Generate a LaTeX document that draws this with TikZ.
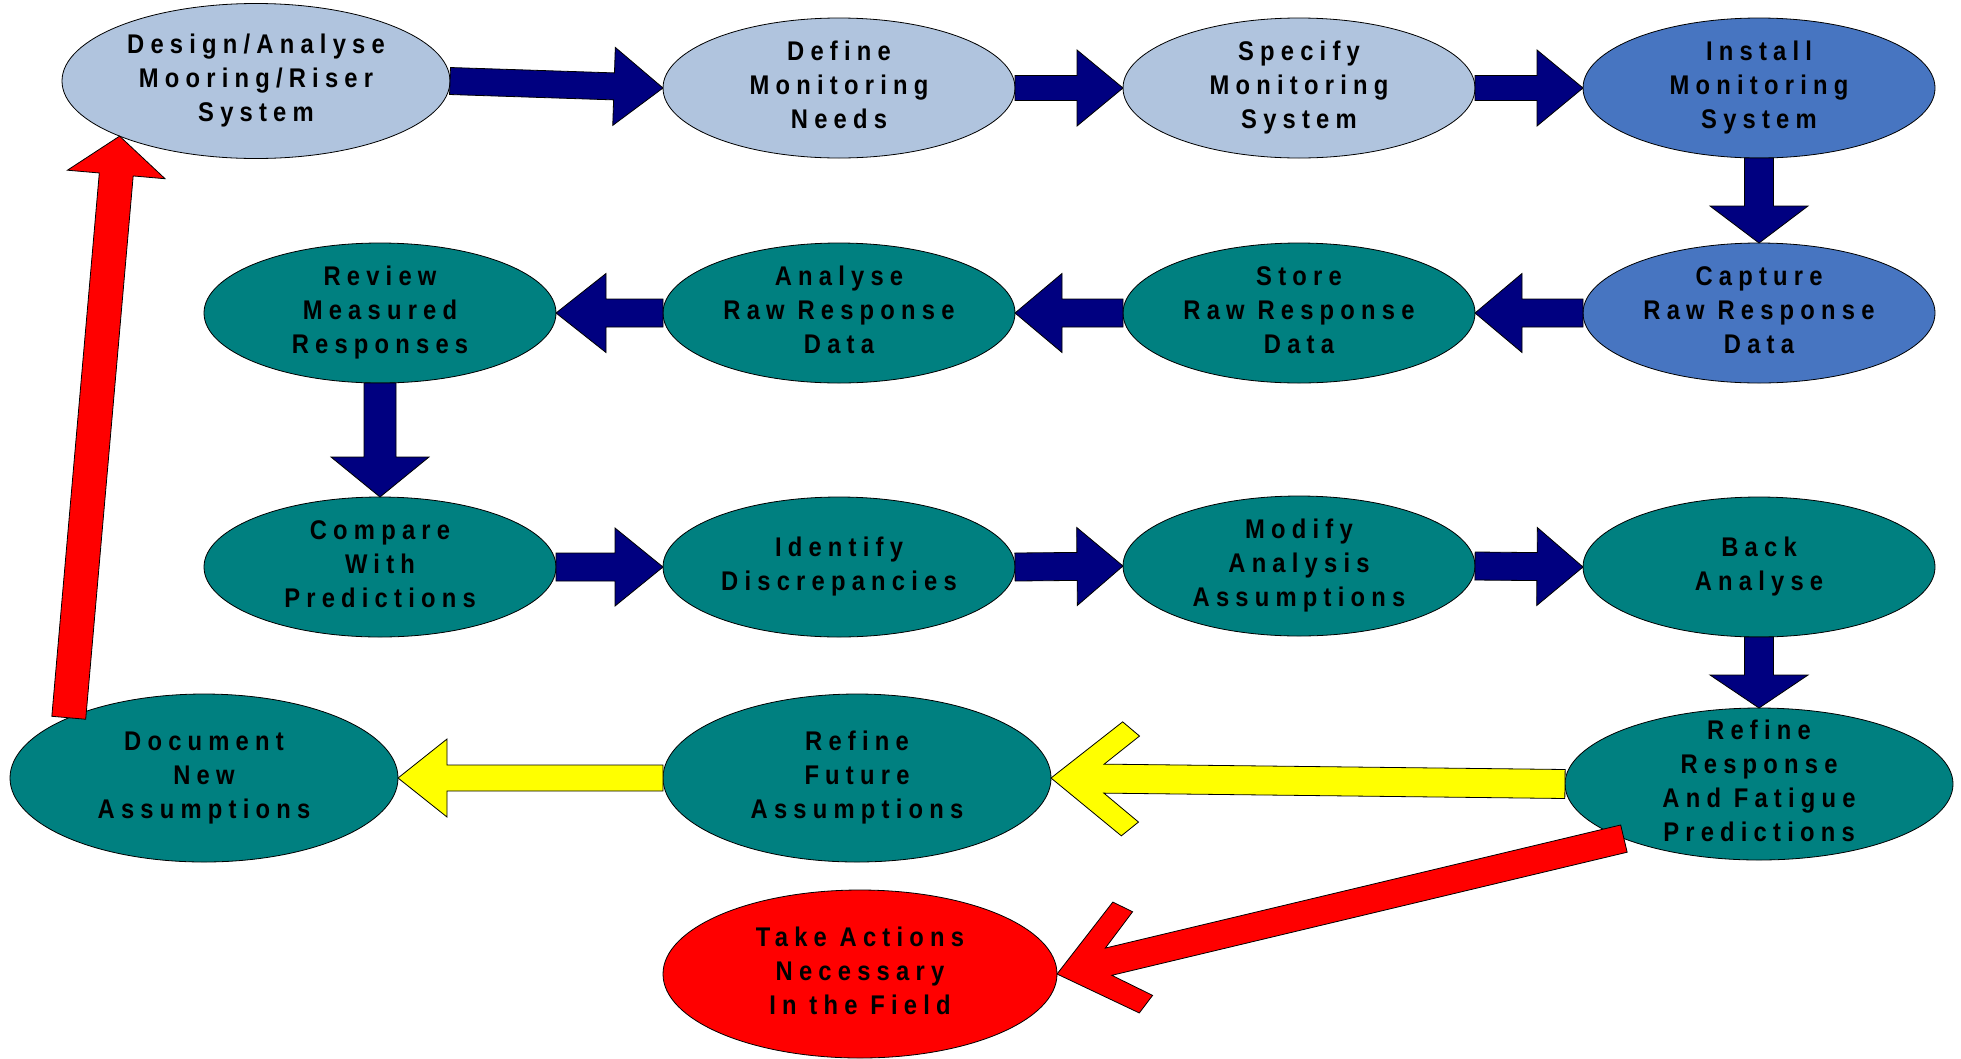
\documentclass[tikz,border=0pt]{standalone}
\usepackage{fontspec}
\setmainfont{Liberation Sans}
\newfontfamily\lblfont[LetterSpace=23,FakeStretch=0.88]{Liberation Sans}
\usetikzlibrary{shapes.geometric,calc}

\definecolor{lblue}{HTML}{B0C4DE}
\definecolor{mblue}{HTML}{4775C1}
\definecolor{tealc}{HTML}{008080}
\definecolor{navyc}{HTML}{000080}
\definecolor{redc}{HTML}{FF0000}
\definecolor{yelc}{HTML}{FFFF00}

% straight block arrow: style, from, tip, shaft half width, head half width, head length
\newcommand\blockarrow[6]{%
  \path (#2) coordinate (baS) (#3) coordinate (baT);
  \pgfmathanglebetweenpoints{\pgfpointanchor{baT}{center}}{\pgfpointanchor{baS}{center}}%
  \let\baAng\pgfmathresult
  \pgfpointdiff{\pgfpointanchor{baT}{center}}{\pgfpointanchor{baS}{center}}%
  \pgfgetlastxy{\baDx}{\baDy}%
  \pgfmathsetmacro\baLen{100*veclen(\baDx/100,\baDy/100)}%
  \begin{scope}[shift={(baT)}, rotate=\baAng]
    \draw[#1] (0,0) -- (#6,#5) -- (#6,#4) -- (\baLen,#4) -- (\baLen,-#4)
      -- (#6,-#4) -- (#6,-#5) -- cycle;
  \end{scope}
}
% chevron-headed block arrow: style, from, tip, shaft half width
\newcommand\chevarrow[4]{%
  \path (#2) coordinate (baS) (#3) coordinate (baT);
  \pgfmathanglebetweenpoints{\pgfpointanchor{baT}{center}}{\pgfpointanchor{baS}{center}}%
  \let\baAng\pgfmathresult
  \pgfpointdiff{\pgfpointanchor{baT}{center}}{\pgfpointanchor{baS}{center}}%
  \pgfgetlastxy{\baDx}{\baDy}%
  \pgfmathsetmacro\baLen{100*veclen(\baDx/100,\baDy/100)}%
  \begin{scope}[shift={(baT)}, rotate=\baAng]
    \draw[#1] (0,0) -- (71,57) -- (88,43) -- (53,#4) -- (\baLen,#4) -- (\baLen,-#4)
      -- (53,-#4) -- (88,-43) -- (71,-57) -- cycle;
  \end{scope}
}

\tikzset{
  box/.style={ellipse, draw=black, line width=0.8pt, inner sep=-40pt, outer sep=0pt,
    minimum width=352pt, minimum height=140pt, align=center, text=black,
    font=\lblfont\bfseries\fontsize{27}{34}\selectfont},
  big/.style={minimum width=388pt, minimum height=155pt},
  lb/.style={box, fill=lblue},
  mb/.style={box, fill=mblue},
  tb/.style={box, fill=tealc},
  navyarr/.style={fill=navyc, draw=black, line width=0.8pt, line join=miter},
  yelarr/.style={fill=yelc, draw=black, line width=0.8pt, line join=miter},
  redarr/.style={fill=redc, draw=black, line width=0.8pt, line join=miter},
}

\begin{document}
\begin{tikzpicture}[x=1pt, y=-1pt]
\useasboundingbox (0,0) rectangle (1961,1058);
\fill[white] (0,0) rectangle (1961,1058);

% row 1
\node[lb, big] (design) at (256,81) {\strut Design/Analyse\\Mooring/Riser\\System\strut};
\node[lb] (define) at (839,88) {\strut Define\\Monitoring\\Needs\strut};
\node[lb] (specify) at (1299,88) {\strut Specify\\Monitoring\\System\strut};
\node[mb] (install) at (1759,88) {\strut Install\\Monitoring\\System\strut};
% row 2
\node[mb] (capture) at (1759,313) {\strut Capture\\Raw Response\\Data\strut};
\node[tb] (store) at (1299,313) {\strut Store\\Raw Response\\Data\strut};
\node[tb] (analyse) at (839,313) {\strut Analyse\\Raw Response\\Data\strut};
\node[tb] (review) at (380,313) {\strut Review\\Measured\\Responses\strut};
% row 3
\node[tb] (compare) at (380,567) {\strut Compare\\With\\Predictions\strut};
\node[tb] (identify) at (839,567) {\strut Identify\\Discrepancies\strut};
\node[tb] (modify) at (1299,566) {\strut Modify\\Analysis\\Assumptions\strut};
\node[tb] (back) at (1759,567) {\strut Back\\Analyse\strut};
% row 4
\node[tb, minimum width=388pt, minimum height=152pt] (refine) at (1759,784) {\strut Refine\\Response\\And Fatigue\\Predictions\strut};
\node[tb, minimum width=388pt, minimum height=168pt] (future) at (857,778) {\strut Refine\\Future\\Assumptions\strut};
\node[tb, minimum width=388pt, minimum height=168pt] (document) at (204,778) {\strut Document\\New\\Assumptions\strut};
\node[box, fill=redc, minimum width=394pt, minimum height=168pt] (take) at (860,974) {\strut Take Actions\\Necessary\\In the Field\strut};

% connectors
\blockarrow{navyarr}{design.east}{define.west}{13.5}{39}{49}
\blockarrow{navyarr}{define.east}{specify.west}{12.5}{38}{46}
\blockarrow{navyarr}{specify.east}{install.west}{12.5}{38}{46}
\blockarrow{navyarr}{install.south}{capture.north}{14.5}{49}{37}
\blockarrow{navyarr}{capture.west}{store.east}{14}{39.5}{47}
\blockarrow{navyarr}{store.west}{analyse.east}{14}{39.5}{47}
\blockarrow{navyarr}{analyse.west}{review.east}{14}{39.5}{50}
\blockarrow{navyarr}{review.south}{compare.north}{16}{49}{40}
\blockarrow{navyarr}{compare.east}{identify.west}{14}{39}{48}
\blockarrow{navyarr}{identify.east}{modify.west}{14}{39}{46}
\blockarrow{navyarr}{modify.east}{back.west}{14}{39}{46}
\blockarrow{navyarr}{back.south}{refine.north}{14.5}{49}{33}
\chevarrow{yelarr}{refine.west}{future.east}{14.5}
\blockarrow{yelarr}{future.west}{document.east}{13}{39}{49}
\chevarrow{redarr}{refine.202}{take.east}{14}
\blockarrow{redarr}{document.156}{design.202}{17}{49}{38.5}
\end{tikzpicture}
\end{document}
